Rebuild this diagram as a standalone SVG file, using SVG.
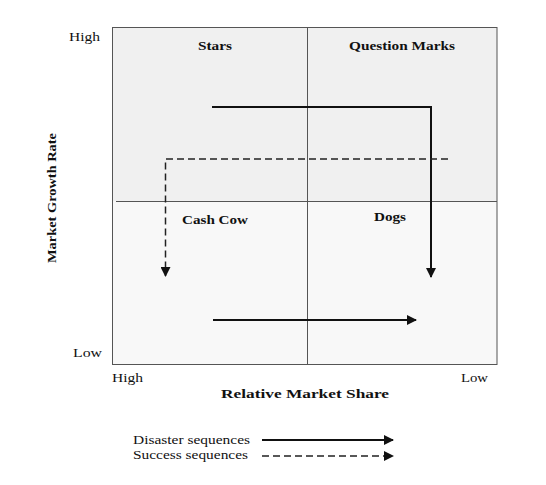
<svg xmlns="http://www.w3.org/2000/svg" width="546" height="485" viewBox="0 0 546 485">
<style>
.t{font-family:"Liberation Serif","Times New Roman",serif;fill:#111}
.b{font-weight:bold;font-size:13px}
.r{font-size:12px}
.grid{stroke:#555;stroke-width:1;fill:none}
.sol{stroke:#111;stroke-width:2;fill:none}
.dash{stroke:#222;stroke-width:1.5;fill:none;stroke-dasharray:7,4}
</style>
<defs>
<marker id="ah" markerWidth="10" markerHeight="10" refX="9" refY="5" orient="auto" markerUnits="userSpaceOnUse">
<path d="M0,0 L10,5 L0,10 Z" fill="#111"/>
</marker>
</defs>
<rect width="546" height="485" fill="#fff"/>
<g id="matrix">
<rect x="112" y="27" width="385" height="174" fill="#f0f0f0"/>
<rect x="112" y="201" width="385" height="164" fill="#f8f8f8"/>
<rect class="grid" x="112.5" y="27.5" width="384.5" height="337"/>
<line class="grid" x1="307.5" y1="27" x2="307.5" y2="365"/>
<line class="grid" x1="116" y1="201.5" x2="497" y2="201.5"/>
</g>
<g id="stars"><text class="t b" x="215" y="50" text-anchor="middle" textLength="34" lengthAdjust="spacingAndGlyphs">Stars</text></g>
<g id="question-marks"><text class="t b" x="402" y="50" text-anchor="middle" textLength="106" lengthAdjust="spacingAndGlyphs">Question Marks</text></g>
<g id="cash-cow"><text class="t b" x="215" y="224" text-anchor="middle" textLength="66" lengthAdjust="spacingAndGlyphs">Cash Cow</text></g>
<g id="dogs"><text class="t b" x="390" y="221" text-anchor="middle" textLength="32" lengthAdjust="spacingAndGlyphs">Dogs</text></g>
<g id="axes">
<text class="t r" x="69" y="41" textLength="31" lengthAdjust="spacingAndGlyphs">High</text>
<text class="t r" x="73" y="357" textLength="29" lengthAdjust="spacingAndGlyphs">Low</text>
<text class="t r" x="112" y="382" textLength="31" lengthAdjust="spacingAndGlyphs">High</text>
<text class="t r" x="461" y="382" textLength="27" lengthAdjust="spacingAndGlyphs">Low</text>
<text class="t b" x="305" y="398" text-anchor="middle" textLength="168" lengthAdjust="spacingAndGlyphs">Relative Market Share</text>
<text class="t b" transform="translate(56,198) rotate(-90)" x="0" y="0" text-anchor="middle" textLength="130" lengthAdjust="spacingAndGlyphs">Market Growth Rate</text>
</g>
<g id="connectors">
<polyline class="sol" points="212,107 431,107 431,277" marker-end="url(#ah)"/>
<polyline class="dash" points="448,159 165.5,159 165.5,276" marker-end="url(#ah)"/>
<line class="sol" x1="213" y1="320" x2="416" y2="320" marker-end="url(#ah)"/>
</g>
<g id="legend">
<text class="t r" x="133" y="444" textLength="117" lengthAdjust="spacingAndGlyphs">Disaster sequences</text>
<text class="t r" x="133" y="459" textLength="115" lengthAdjust="spacingAndGlyphs">Success sequences</text>
<line class="sol" x1="262" y1="440" x2="393" y2="440" marker-end="url(#ah)"/>
<line class="dash" x1="262" y1="456" x2="393" y2="456" marker-end="url(#ah)"/>
</g>
</svg>
